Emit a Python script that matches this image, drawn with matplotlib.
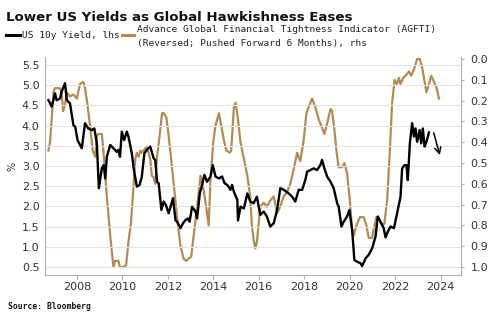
#!/usr/bin/env python3
# US 10y yield vs AGFTI (reversed, pushed forward 6 months)

import matplotlib
matplotlib.use("Agg")
import matplotlib.pyplot as plt
from matplotlib.lines import Line2D

# US 10y yield (%), left axis
us10y_t = [2006.75, 2006.90, 2007.04, 2007.11, 2007.26, 2007.33, 2007.48, 2007.56,
           2007.70, 2007.85, 2007.93, 2008.03, 2008.14, 2008.22, 2008.36, 2008.50,
           2008.66, 2008.77, 2008.88, 2008.97, 2009.10, 2009.18, 2009.25, 2009.32,
           2009.47, 2009.61, 2009.76, 2009.83, 2009.90, 2009.98, 2010.08, 2010.20,
           2010.27, 2010.42, 2010.50, 2010.64, 2010.76, 2010.86, 2010.97, 2011.08,
           2011.23, 2011.38, 2011.45, 2011.53, 2011.60, 2011.72, 2011.82, 2011.92,
           2012.04, 2012.14, 2012.23, 2012.34, 2012.41, 2012.56, 2012.67, 2012.78,
           2012.88, 2012.96, 2013.07, 2013.22, 2013.29, 2013.41, 2013.51, 2013.61,
           2013.73, 2013.88, 2013.98, 2014.10, 2014.25, 2014.39, 2014.50, 2014.62,
           2014.76, 2014.83, 2014.91, 2015.06, 2015.09, 2015.20, 2015.35, 2015.50,
           2015.63, 2015.78, 2015.92, 2016.07, 2016.22, 2016.36, 2016.51, 2016.66,
           2016.81, 2016.95, 2017.10, 2017.32, 2017.47, 2017.61, 2017.76, 2017.91,
           2018.05, 2018.13, 2018.27, 2018.42, 2018.57, 2018.71, 2018.79, 2018.89,
           2019.01, 2019.16, 2019.30, 2019.45, 2019.52, 2019.64, 2019.74, 2019.89,
           2019.99, 2020.11, 2020.21, 2020.33, 2020.48, 2020.55, 2020.70, 2020.84,
           2020.99, 2021.14, 2021.24, 2021.36, 2021.50, 2021.58, 2021.68, 2021.80,
           2021.95, 2022.09, 2022.24, 2022.31, 2022.41, 2022.50, 2022.56, 2022.65,
           2022.75, 2022.83, 2022.90, 2022.97, 2023.08, 2023.15, 2023.22, 2023.30,
           2023.38, 2023.49]
us10y = [4.63, 4.47, 4.80, 4.63, 4.67, 4.84, 5.05, 4.63,
         4.55, 4.01, 3.97, 3.64, 3.52, 3.44, 4.06, 3.93,
         3.89, 3.93, 3.56, 2.45, 2.94, 3.02, 2.69, 3.23,
         3.52, 3.44, 3.35, 3.40, 3.23, 3.85, 3.64, 3.85,
         3.73, 3.31, 2.94, 2.49, 2.53, 2.74, 3.31, 3.40,
         3.48, 3.19, 3.15, 2.61, 2.57, 1.91, 2.12, 2.03,
         1.83, 2.03, 2.20, 1.66, 1.62, 1.46, 1.58, 1.66,
         1.70, 1.62, 1.99, 1.87, 1.70, 2.32, 2.53, 2.78,
         2.61, 2.74, 3.02, 2.74, 2.69, 2.74, 2.57, 2.53,
         2.41, 2.53, 2.36, 2.16, 1.65, 1.99, 1.95, 2.32,
         2.12, 2.08, 2.24, 1.79, 1.87, 1.75, 1.50, 1.58,
         1.91, 2.45, 2.41, 2.32, 2.24, 2.12, 2.41, 2.41,
         2.65, 2.86, 2.90, 2.94, 2.90, 3.02, 3.15, 2.94,
         2.74, 2.61, 2.45, 2.08, 1.99, 1.50, 1.62, 1.75,
         1.91, 1.42, 0.67, 0.63, 0.59, 0.52, 0.71, 0.80,
         0.96, 1.25, 1.75, 1.62, 1.46, 1.23, 1.37, 1.50,
         1.46, 1.83, 2.24, 2.94, 3.02, 3.02, 2.65, 3.56,
         4.06, 3.73, 3.93, 3.60, 3.89, 3.56, 3.93, 3.48,
         3.60, 3.83]

# AGFTI, reversed and pushed forward 6 months, right axis
agfti_t = [2006.75, 2006.82, 2006.90, 2006.97, 2007.04, 2007.26, 2007.33, 2007.40,
           2007.48, 2007.56, 2007.70, 2007.85, 2008.00, 2008.14, 2008.29, 2008.36,
           2008.47, 2008.59, 2008.70, 2008.81, 2008.88, 2008.95, 2009.10, 2009.20,
           2009.32, 2009.47, 2009.61, 2009.68, 2009.83, 2009.90, 2010.05, 2010.17,
           2010.27, 2010.38, 2010.50, 2010.57, 2010.64, 2010.72, 2010.79, 2010.86,
           2010.94, 2011.08, 2011.23, 2011.30, 2011.38, 2011.45, 2011.53, 2011.64,
           2011.75, 2011.82, 2011.94, 2012.04, 2012.14, 2012.26, 2012.41, 2012.56,
           2012.70, 2012.82, 2012.92, 2013.03, 2013.14, 2013.29, 2013.44, 2013.58,
           2013.70, 2013.80, 2013.88, 2014.00, 2014.10, 2014.25, 2014.35, 2014.47,
           2014.58, 2014.73, 2014.79, 2014.91, 2014.98, 2015.09, 2015.20, 2015.35,
           2015.50, 2015.63, 2015.70, 2015.78, 2015.85, 2015.92, 2016.00, 2016.07,
           2016.22, 2016.36, 2016.51, 2016.66, 2016.81, 2016.95, 2017.10, 2017.25,
           2017.39, 2017.54, 2017.69, 2017.83, 2017.98, 2018.10, 2018.20, 2018.35,
           2018.49, 2018.64, 2018.79, 2018.89, 2019.01, 2019.16, 2019.23, 2019.33,
           2019.42, 2019.52, 2019.67, 2019.77, 2019.89, 2020.01, 2020.11, 2020.18,
           2020.30, 2020.45, 2020.62, 2020.74, 2020.84, 2020.99, 2021.06, 2021.18,
           2021.28, 2021.43, 2021.53, 2021.65, 2021.77, 2021.87, 2021.98, 2022.09,
           2022.17, 2022.24, 2022.36, 2022.46, 2022.61, 2022.71, 2022.83, 2022.97,
           2023.09, 2023.19, 2023.30, 2023.38, 2023.49, 2023.59, 2023.71, 2023.83,
           2023.93]
agfti = [0.44, 0.40, 0.28, 0.16, 0.14, 0.14, 0.16, 0.25,
         0.22, 0.16, 0.18, 0.17, 0.19, 0.12, 0.11, 0.14,
         0.22, 0.33, 0.44, 0.47, 0.37, 0.36, 0.36, 0.48,
         0.66, 0.85, 1.00, 0.97, 0.97, 1.00, 1.00, 0.99,
         0.88, 0.79, 0.60, 0.48, 0.45, 0.47, 0.44, 0.45,
         0.44, 0.42, 0.48, 0.56, 0.57, 0.60, 0.47, 0.37,
         0.26, 0.26, 0.28, 0.37, 0.47, 0.60, 0.76, 0.90,
         0.96, 0.97, 0.96, 0.95, 0.85, 0.71, 0.56, 0.63,
         0.72, 0.80, 0.58, 0.40, 0.32, 0.26, 0.32, 0.39,
         0.44, 0.45, 0.44, 0.23, 0.21, 0.29, 0.40, 0.48,
         0.56, 0.66, 0.80, 0.87, 0.91, 0.88, 0.79, 0.71,
         0.69, 0.71, 0.68, 0.66, 0.74, 0.71, 0.66, 0.64,
         0.60, 0.53, 0.45, 0.49, 0.39, 0.26, 0.23, 0.19,
         0.23, 0.29, 0.33, 0.36, 0.31, 0.24, 0.25, 0.34,
         0.44, 0.52, 0.52, 0.50, 0.55, 0.68, 0.82, 0.85,
         0.80, 0.76, 0.76, 0.80, 0.86, 0.86, 0.82, 0.76,
         0.77, 0.80, 0.79, 0.68, 0.44, 0.21, 0.10, 0.12,
         0.09, 0.12, 0.09, 0.08, 0.06, 0.08, 0.05, 0.00,
         0.00, 0.04, 0.11, 0.16, 0.12, 0.08, 0.11, 0.14,
         0.19]

left_ticks = [0.5, 1.0, 1.5, 2.0, 2.5, 3.0, 3.5, 4.0, 4.5, 5.0, 5.5]
right_ticks = [0.0, 0.1, 0.2, 0.3, 0.4, 0.5, 0.6, 0.7, 0.8, 0.9, 1.0]
year_ticks = [2008, 2010, 2012, 2014, 2016, 2018, 2020, 2022, 2024]

# arrow start / end (year, yield)
arrow_from = (2023.70, 3.82)
arrow_to = (2023.97, 3.27)

gold = "#b38b52"
axis_grey = "#b0b0b0"
txt = "#333333"

fig = plt.figure(figsize=(5.0, 3.22), dpi=100)
ax = fig.add_axes([0.09, 0.146, 0.832, 0.677])
ax2 = ax.twinx()

ax2.plot(agfti_t, agfti, color=gold, lw=1.6, solid_joinstyle="round")
ax.plot(us10y_t, us10y, color="black", lw=1.7, solid_joinstyle="round")
ax.annotate("", xy=arrow_to, xytext=arrow_from,
            arrowprops=dict(arrowstyle="->", color="black", lw=1.1,
                            mutation_scale=11, shrinkA=0, shrinkB=0))

# black line above gold
ax.set_zorder(ax2.get_zorder() + 1)
ax.patch.set_visible(False)

ax.set_xlim(2006.6, 2024.9)
ax.set_ylim(0.30, 5.70)
ax2.set_ylim(1.038, -0.01)

ax.set_yticks(left_ticks)
ax.set_yticklabels([f"{v:.1f}" for v in left_ticks])
ax2.set_yticks(right_ticks)
ax2.set_yticklabels([f"{v:.1f}" for v in right_ticks])
ax.set_xticks(year_ticks)
ax.set_xticklabels([str(y) for y in year_ticks])

ax.grid(axis="y", color="#e2e2e2", lw=0.8)
ax.set_axisbelow(True)

for a in (ax, ax2):
    a.spines["top"].set_visible(False)
    for s in ("left", "bottom", "right"):
        a.spines[s].set_color(axis_grey)
        a.spines[s].set_linewidth(0.8)
ax.spines["right"].set_visible(False)
ax2.spines["left"].set_visible(False)
ax2.spines["bottom"].set_visible(False)

ax.tick_params(axis="x", length=3, color=axis_grey, labelsize=8, labelcolor=txt, pad=2)
ax.tick_params(axis="y", length=0, labelsize=8, labelcolor=txt, pad=4)
ax2.tick_params(axis="y", length=2, color=axis_grey, labelsize=8, labelcolor=txt, pad=5)

ax.set_ylabel("%", fontsize=7, color=txt, labelpad=3)

# title and legend
fig.text(0.012, 0.965, "Lower US Yields as Global Hawkishness Eases",
         fontsize=9.6, fontweight="bold", color="#111111", va="top", ha="left")

fig.add_artist(Line2D([0.012, 0.040], [0.891, 0.891], color="black", lw=2.2))
fig.text(0.043, 0.891, "US 10y Yield, lhs", family="DejaVu Sans Mono",
         fontsize=6.8, color="#222222", va="center", ha="left")
fig.add_artist(Line2D([0.244, 0.268], [0.891, 0.891], color=gold, lw=2.2))
fig.text(0.274, 0.907, "Advance Global Financial Tightness Indicator (AGFTI)",
         family="DejaVu Sans Mono", fontsize=6.8, color="#222222", va="center", ha="left")
fig.text(0.274, 0.866, "(Reversed; Pushed Forward 6 Months), rhs",
         family="DejaVu Sans Mono", fontsize=6.8, color="#222222", va="center", ha="left")

fig.text(0.016, 0.047, "Source: Bloomberg", family="DejaVu Sans Mono",
         fontsize=5.8, fontweight="bold", color="#111111", va="center", ha="left")

fig.savefig("out.png", dpi=100)
